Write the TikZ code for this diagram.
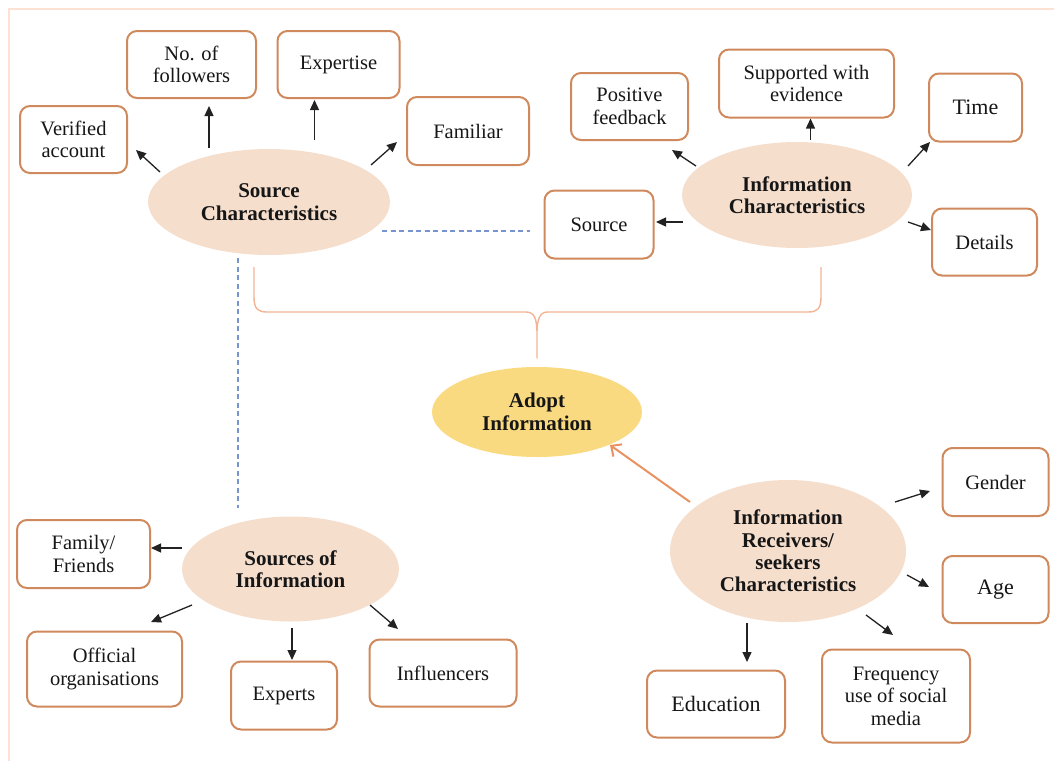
\documentclass[tikz,border=0pt]{standalone}
\usepackage{fontspec}
\setmainfont{Liberation Serif}
\usetikzlibrary{arrows.meta,shapes.geometric,calc}

\definecolor{boxline}{RGB}{207,137,92}
\definecolor{peach}{RGB}{246,222,205}
\definecolor{gold}{RGB}{249,218,128}
\definecolor{linkorange}{RGB}{233,146,96}
\definecolor{dashblue}{RGB}{118,148,208}
\definecolor{bracecol}{RGB}{241,180,148}
\definecolor{framecol}{RGB}{253,226,212}
\definecolor{ink}{RGB}{22,22,22}
\definecolor{arrowink}{RGB}{34,34,34}

\tikzset{
  base/.style={font=\fontsize{20.5}{22.5}\selectfont, text=ink, align=center, inner sep=0pt},
  card/.style 2 args={base, draw=boxline, line width=2pt, rounded corners=10pt,
    fill=white, minimum width=#1, minimum height=#2},
  bigtext/.style={font=\fontsize{22}{24}\selectfont},
  bubble/.style 2 args={base, ellipse, fill=peach, minimum width=#1, minimum height=#2,
    font=\bfseries\fontsize{21}{22.4}\selectfont},
  arr/.style={draw=arrowink, line width=1.3pt, -{Triangle[length=10pt,width=9pt]}},
  adoptlink/.style={draw=linkorange, line width=2pt,
    -{Straight Barb[length=8pt,width=15pt]}},
  dashlink/.style={draw=dashblue, line width=1.5pt, dash pattern=on 5pt off 3.5pt},
  bracket/.style={draw=bracecol, line width=1.4pt, line join=round},
  frame/.style={draw=framecol, line width=2pt}
}

\begin{document}
\begin{tikzpicture}[x=1pt, y=-1pt]
  \useasboundingbox (0,0) rectangle (1054,761);

  % outer frame (only the top and left edges fall inside the page)
  \draw[frame] (1054,8.5) -- (8.5,8.5) -- (8.5,761);

  % central concepts
  \node[bubble={242pt}{106pt}] (sc) at (269,202) {Source\\Characteristics};
  \node[bubble={230pt}{106pt}] (ic) at (797,195) {Information\\Characteristics};
  \node[bubble={217pt}{105pt}] (so) at (290.5,569) {Sources of\\Information};
  \node[bubble={236pt}{142pt}] (rc) at (788,551) {Information\\Receivers/\\seekers\\Characteristics};
  \node[bubble={210pt}{90pt}, fill=gold] (ad) at (537,412) {Adopt\\Information};

  % source characteristics
  \node[card={107pt}{67pt}] (ver) at (73.5,139.5) {Verified\\account};
  \node[card={129pt}{67pt}] (fol) at (191.5,64.5) {No. of\\followers};
  \node[card={122pt}{67pt}] (exp) at (338.5,64.5) {Expertise};
  \node[card={122pt}{68pt}] (fam) at (468,131) {Familiar};

  % information characteristics
  \node[card={117pt}{67pt}] (pos) at (629.5,106.5) {Positive\\feedback};
  \node[card={175pt}{68pt}] (sup) at (806.5,83.5) {Supported with\\evidence};
  \node[card={93pt}{68pt}, bigtext] (tim) at (975.5,107.5) {Time};
  \node[card={109pt}{68pt}] (srcb) at (599,224.5) {Source};
  \node[card={105pt}{67pt}] (det) at (984.5,242) {Details};

  % sources of information
  \node[card={133pt}{68pt}] (famf) at (83.5,554) {Family/\\Friends};
  \node[card={155pt}{75pt}] (off) at (104.5,669) {Official\\organisations};
  \node[card={106pt}{68pt}] (expt) at (284,695.5) {Experts};
  \node[card={147pt}{67pt}] (inf) at (443,673) {Influencers};

  % receiver / seeker characteristics
  \node[card={106pt}{68pt}] (gen) at (995.5,482) {Gender};
  \node[card={106pt}{67pt}, bigtext] (age) at (995.5,589.5) {Age};
  \node[card={138pt}{67pt}, bigtext] (edu) at (716,704) {Education};
  \node[card={148pt}{93pt}] (frq) at (896,696) {Frequency\\use of social\\media};

  % arrows from each concept to its attributes
  \draw[arr] ([shift={(-109,-30)}]sc.center) -- ([shift={(62.5,10.5)}]ver.center);
  \draw[arr] ([shift={(-60,-54)}]sc.center) -- ([shift={(17.5,41.5)}]fol.center);
  \draw[arr] ([shift={(45.5,-62)}]sc.center) -- ([shift={(-24,35.5)}]exp.center);
  \draw[arr] ([shift={(102,-37)}]sc.center) -- ([shift={(-71,11)}]fam.center);

  \draw[arr] ([shift={(-101,-29)}]ic.center) -- ([shift={(42.5,43.5)}]pos.center);
  \draw[arr] ([shift={(13.5,-55)}]ic.center) -- ([shift={(4,35)}]sup.center);
  \draw[arr] ([shift={(111,-29)}]ic.center) -- ([shift={(-45.5,34.5)}]tim.center);
  \draw[arr] ([shift={(-114,27)}]ic.center) -- ([shift={(57,-2.5)}]srcb.center);
  \draw[arr] ([shift={(111,27)}]ic.center) -- ([shift={(-53.5,-12)}]det.center);

  \draw[arr] ([shift={(-108.5,-21)}]so.center) -- ([shift={(67.5,-6)}]famf.center);
  \draw[arr] ([shift={(-98.5,36)}]so.center) -- ([shift={(46.5,-47)}]off.center);
  \draw[arr] ([shift={(1.5,59)}]so.center) -- ([shift={(8,-35.5)}]expt.center);
  \draw[arr] ([shift={(79.5,36)}]so.center) -- ([shift={(-45,-44)}]inf.center);

  \draw[arr] ([shift={(107,-49)}]rc.center) -- ([shift={(-65.5,9)}]gen.center);
  \draw[arr] ([shift={(119,24)}]rc.center) -- ([shift={(-66.5,-2.5)}]age.center);
  \draw[arr] ([shift={(78,64)}]rc.center) -- ([shift={(-3,-61)}]frq.center);
  \draw[arr] ([shift={(-41,72)}]rc.center) -- ([shift={(31,-42)}]edu.center);

  % receivers lead to adoption
  \draw[adoptlink] ([shift={(-98,-49)}]rc.center) -- ([shift={(73,33)}]ad.center);

  % dashed links between source characteristics and the sources
  \draw[dashlink] ([shift={(113,29)}]sc.center) -- ([shift={(-69,6.5)}]srcb.center);
  \draw[dashlink] ([shift={(-31,56)}]sc.center) -- ([shift={(-52.5,-61)}]so.center);

  % brace gathering source and information characteristics
  \coordinate (brL) at (254,267);
  \coordinate (brR) at (821,267);
  \coordinate (brT) at (537,358);
  \draw[bracket] (brL) -- ++(0,30)
      .. controls +(0,12) and +(-9,0) .. ++(13,15)
      -- ($(brT)+(-11,-46)$)
      .. controls +(8,0) and +(0,-16) .. ++(11,22)
      -- (brT) -- ++(0,-24)
      .. controls +(0,-16) and +(-8,0) .. ++(11,-22)
      -- ($(brR)+(-13,45)$)
      .. controls +(9,0) and +(0,12) .. ++(13,-15)
      -- (brR);
\end{tikzpicture}
\end{document}
